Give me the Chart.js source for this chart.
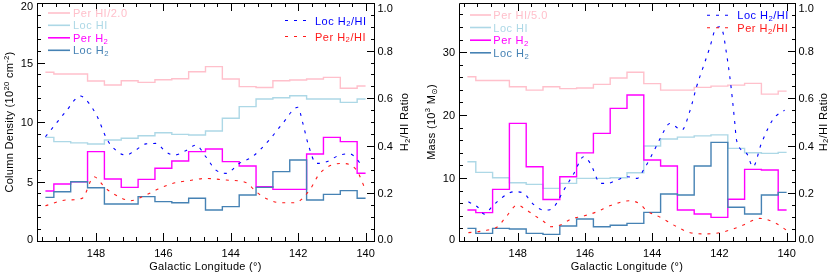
<!DOCTYPE html>
<html>
<head>
<meta charset="utf-8">
<script src="https://cdn.jsdelivr.net/npm/chart.js@4.4.1/dist/chart.umd.min.js"></script>
<style>
html, body { margin: 0; padding: 0; background: #fff; }
#wrap { position: relative; width: 830px; height: 273px; }
canvas { position: absolute; top: 0; }
#left { left: 0; }
#right { left: 415px; }
</style>
</head>
<body>
<div id="wrap">
<canvas id="left" width="415" height="273"></canvas>
<canvas id="right" width="415" height="273"></canvas>
</div>
<script>
// bin centres, galactic longitude (deg)
var lon = [149.5, 149.0, 148.5, 148.0, 147.5, 147.0, 146.5, 146.0, 145.5, 145.0,
           144.5, 144.0, 143.5, 143.0, 142.5, 142.0, 141.5, 141.0, 140.5, 140.0];

// left panel: column density (1e20 cm^-2)
var perHIcol = [14.18, 14.03, 14.03, 13.45, 13.11, 13.47, 13.33, 13.55, 13.64, 14.22,
                14.65, 13.61, 12.97, 12.9, 13.47, 13.53, 13.61, 13.75, 12.83, 13.03];   // Per HI / 2.0
var locHIcol = [8.71, 8.35, 8.25, 8.15, 8.49, 8.63, 8.85, 9.1, 8.96, 8.91,
                9.24, 10.31, 11.29, 11.93, 12.04, 12.21, 11.93, 11.93, 11.65, 11.93];
var perH2col = [4.2, 4.79, 4.98, 7.51, 5.21, 4.51, 5.18, 6.11, 6.72, 7.51,
                7.73, 6.67, 6.3, 4.56, 4.34, 4.34, 7.31, 8.71, 8.35, 5.69];
var locH2col = [3.67, 4.14, 4.98, 4.48, 3.11, 3.11, 3.73, 3.31, 3.22, 3.59,
                2.61, 2.89, 3.87, 4.51, 5.83, 6.81, 3.45, 3.92, 4.23, 3.59];

// left panel: H2/HI ratio curves
var locRatioLonL = [149.5, 149.3, 148.9, 148.46, 148.21, 147.96, 147.71, 147.56, 147.12, 146.82,
                    146.52, 146.22, 145.93, 145.68, 145.34, 145.04, 144.74, 144.44, 144.14, 143.75,
                    143.36, 142.86, 142.46, 142.01, 141.86, 141.71, 141.46, 141.16, 140.77, 140.47, 140.07];
var locRatioL = [0.438, 0.473, 0.543, 0.609, 0.579, 0.522, 0.438, 0.403, 0.361, 0.382,
                 0.408, 0.41, 0.375, 0.361, 0.379, 0.403, 0.354, 0.298, 0.284, 0.326,
                 0.354, 0.424, 0.494, 0.562, 0.494, 0.41, 0.326, 0.333, 0.361, 0.366, 0.312];
var perRatioLonL = [149.5, 148.9, 148.41, 148.06, 147.71, 147.22, 146.97, 146.62, 146.22, 145.73,
                    145.13, 144.74, 144.14, 143.54, 143.25, 142.85, 142.5, 142.1, 141.66, 141.36,
                    140.72, 140.27, 140.0];
var perRatioL = [0.148, 0.172, 0.179, 0.27, 0.221, 0.179, 0.169, 0.186, 0.214, 0.242,
                 0.256, 0.263, 0.256, 0.245, 0.207, 0.172, 0.161, 0.161, 0.214, 0.284,
                 0.326, 0.298, 0.214];

// right panel: mass (1e3 Msun)
var perHImass = [26.08, 25.5, 25.5, 24.5, 23.97, 24.5, 24.2, 24.3, 24.87, 25.9,
                 26.8, 25.0, 23.97, 23.97, 24.4, 24.6, 24.76, 25.03, 23.33, 23.8];  // Per HI / 5.0
var locHImass = [12.59, 10.9, 10.05, 9.26, 9.0, 8.36, 9.16, 9.95, 9.95, 10.05,
                 10.85, 15.08, 16.2, 16.5, 16.7, 16.85, 14.71, 14.02, 13.92, 14.07];
var perH2mass = [4.92, 4.5, 8.2, 18.68, 11.8, 6.6, 10.2, 14.0, 17.1, 21.06,
                 23.2, 12.86, 11.9, 4.92, 4.29, 3.76, 6.62, 11.38, 11.27, 4.92];
var locH2mass = [2.0, 1.21, 2.0, 1.9, 1.21, 1.06, 2.38, 3.49, 2.27, 2.5,
                 2.8, 4.55, 7.46, 7.3, 11.9, 15.66, 5.35, 4.29, 7.3, 7.73];

// right panel: H2/HI ratio curves
var locRatioLonR = [149.47, 149.19, 149.0, 148.75, 148.5, 148.11, 147.81, 147.61, 147.32, 147.12,
                    146.92, 146.63, 146.33, 146.04, 145.84, 145.54, 145.34, 145.05, 144.75, 144.45,
                    144.26, 143.86, 143.76, 143.47, 143.12, 142.87, 142.68, 142.48, 142.28, 142.13,
                    141.99, 141.89, 141.79, 141.69, 141.61, 141.54, 141.49, 141.19, 141.0, 140.75,
                    140.4, 140.06];
var locRatioR = [0.165, 0.142, 0.113, 0.147, 0.179, 0.207, 0.2, 0.165, 0.133, 0.13,
                 0.144, 0.214, 0.284, 0.354, 0.326, 0.242, 0.242, 0.256, 0.27, 0.263,
                 0.298, 0.403, 0.432, 0.494, 0.466, 0.55, 0.648, 0.732, 0.816, 0.887,
                 0.9, 0.874, 0.789, 0.69, 0.592, 0.494, 0.424, 0.368, 0.312, 0.41,
                 0.512, 0.55];
var perRatioLonR = [149.47, 149.19, 148.9, 148.6, 148.36, 148.01, 147.81, 147.52, 147.22, 147.02,
                    146.73, 146.43, 146.04, 145.64, 145.24, 144.65, 144.36, 144.16, 143.76, 143.27,
                    142.87, 142.4, 141.99, 141.69, 141.29, 140.8, 140.31, 140.01];
var perRatioR = [0.035, 0.039, 0.046, 0.06, 0.1, 0.151, 0.137, 0.109, 0.081, 0.06,
                 0.067, 0.091, 0.105, 0.123, 0.149, 0.169, 0.155, 0.127, 0.1, 0.06,
                 0.035, 0.03, 0.035, 0.046, 0.067, 0.095, 0.074, 0.046];

// tick labels
var lonTicks = [148, 146, 144, 142, 140];
var colTicks = [0, 5, 10, 15, 20];
var massTicks = [0, 10, 20, 30];
var ratioTicks = [0, 0.2, 0.4, 0.6, 0.8, 1.0];

var FONT = "'Liberation Sans', 'DejaVu Sans', Arial, sans-serif";
var C = {
    perHI: "#ffc0cb", locHI: "#add8e6", perH2: "#ff00ff", locH2: "#4682b4",
    locRatio: "#0000ff", perRatio: "#ff1a1a"
};
var DASH = [3, 6];

function pairs(xs, ys) {
    return xs.map(function (x, i) { return { x: x, y: ys[i] }; });
}

function stepSet(ys, color) {
    return { data: pairs(lon, ys), borderColor: color, borderWidth: 1.4, stepped: "middle",
             pointRadius: 0, yAxisID: "y" };
}

function curveSet(xs, ys, color) {
    return { data: pairs(xs, ys), borderColor: color, borderWidth: 1.1, borderDash: DASH,
             tension: 0.4, cubicInterpolationMode: "monotone", pointRadius: 0, yAxisID: "y2" };
}

// text with sub/superscripts: parts = [[text, 0|1|-1], ...]
function drawRich(ctx, parts, x, y, align, size, spacing) {
    ctx.letterSpacing = (spacing || 0) + "px";
    var w = 0;
    parts.forEach(function (p) {
        ctx.font = (p[1] ? size * 0.7 : size) + "px " + FONT;
        w += ctx.measureText(p[0]).width;
    });
    var cx = align === "center" ? x - w / 2 : x;
    ctx.textAlign = "left";
    ctx.textBaseline = "alphabetic";
    parts.forEach(function (p) {
        ctx.font = (p[1] ? size * 0.7 : size) + "px " + FONT;
        var dy = p[1] === 1 ? -size * 0.42 : (p[1] === -1 ? size * 0.18 : 0);
        ctx.fillText(p[0], cx, y + dy);
        cx += ctx.measureText(p[0]).width;
    });
    ctx.letterSpacing = "0px";
}

// IDL-like box, inward ticks, labels, titles and legends
function framePlugin(p) {
    return {
        id: "frame",
        afterDraw: function (chart) {
            var ctx = chart.ctx, a = chart.chartArea;
            var sx = chart.scales.x, sy = chart.scales.y, sr = chart.scales.y2;
            var k, v, len, px;
            ctx.save();
            ctx.strokeStyle = "#000";
            ctx.lineWidth = 1;
            ctx.beginPath();
            ctx.rect(a.left + 0.5, a.top + 0.5, a.right - a.left, a.bottom - a.top);
            for (k = 0; k <= 24; k++) {
                v = 140 + 0.4 * k;
                len = k % 5 === 0 ? 8 : 4;
                px = Math.round(sx.getPixelForValue(v)) + 0.5;
                ctx.moveTo(px, a.bottom); ctx.lineTo(px, a.bottom - len);
                ctx.moveTo(px, a.top); ctx.lineTo(px, a.top + len);
            }
            for (k = 0; k * p.yMinor <= p.yMax; k++) {
                v = k * p.yMinor;
                len = (v % p.yMajor === 0) ? 8 : 4;
                px = Math.round(sy.getPixelForValue(v)) + 0.5;
                ctx.moveTo(a.left, px); ctx.lineTo(a.left + len, px);
            }
            for (k = 0; k <= 20; k++) {
                len = k % 4 === 0 ? 8 : 4;
                px = Math.round(sr.getPixelForValue(k * 0.05)) + 0.5;
                ctx.moveTo(a.right + 1, px); ctx.lineTo(a.right + 1 - len, px);
            }
            ctx.stroke();

            // tick labels
            ctx.fillStyle = "#000";
            ctx.font = "11px " + FONT;
            ctx.textBaseline = "alphabetic";
            ctx.textAlign = "center";
            lonTicks.forEach(function (t) {
                ctx.fillText(String(t), sx.getPixelForValue(t), a.bottom + 15.7);
            });
            ctx.textAlign = "right";
            p.yTicks.forEach(function (t) {
                var by = Math.min(Math.max(sy.getPixelForValue(t) + 4, a.top + 7), a.bottom + 1.5);
                ctx.fillText(String(t), a.left - 4, by);
            });
            ctx.textAlign = "left";
            ratioTicks.forEach(function (t) {
                var by = Math.min(Math.max(sr.getPixelForValue(t) + 4, a.top + 8.5), a.bottom + 1.8);
                ctx.fillText(t.toFixed(1), a.right + 3.5, by);
            });

            // axis titles
            var midY = (a.top + a.bottom) / 2;
            drawRich(ctx, [["Galactic Longitude (\u00b0)", 0]], (a.left + a.right) / 2, a.bottom + 29, "center", 11, 0.3);
            ctx.save();
            ctx.translate(p.yTitleX, midY);
            ctx.rotate(-Math.PI / 2);
            drawRich(ctx, p.yTitle, 0, 0, "center", 11, 0.3);
            ctx.restore();
            ctx.save();
            ctx.translate(p.y2TitleX, midY);
            ctx.rotate(-Math.PI / 2);
            drawRich(ctx, [["H", 0], ["2", -1], ["/HI Ratio", 0]], 0, 0, "center", 11, 0.3);
            ctx.restore();

            // legends
            p.legend.forEach(function (it) {
                ctx.strokeStyle = it.color;
                ctx.lineWidth = it.dash ? 1.1 : 1.6;
                ctx.setLineDash(it.dash ? DASH : []);
                ctx.beginPath();
                ctx.moveTo(it.x0, it.y);
                ctx.lineTo(it.x1, it.y);
                ctx.stroke();
                ctx.setLineDash([]);
                ctx.fillStyle = it.color;
                drawRich(ctx, it.label, it.tx, it.y + 4, "left", 11, 0.5);
            });
            ctx.restore();
        }
    };
}

function makeChart(id, sets, p) {
    return new Chart(document.getElementById(id), {
        type: "line",
        data: { datasets: sets },
        options: {
            responsive: false,
            animation: false,
            events: [],
            layout: { padding: { top: 3, left: 0, right: 0, bottom: 0 } },
            plugins: { legend: { display: false }, tooltip: { enabled: false } },
            scales: {
                x: {
                    type: "linear", reverse: true, min: 139.75, max: 149.75,
                    ticks: { display: false }, grid: { display: false, drawTicks: false },
                    border: { display: false },
                    afterFit: function (s) { s.height = 32; }
                },
                y: {
                    type: "linear", position: "left", min: 0, max: p.yMax,
                    ticks: { display: false }, grid: { display: false, drawTicks: false },
                    border: { display: false },
                    afterFit: function (s) { s.width = p.leftW; }
                },
                y2: {
                    type: "linear", position: "right", min: 0, max: 1,
                    ticks: { display: false }, grid: { display: false, drawTicks: false },
                    border: { display: false },
                    afterFit: function (s) { s.width = p.rightW; }
                }
            }
        },
        plugins: [framePlugin(p)]
    });
}

var H2 = [["2", -1]];

makeChart("left", [
    curveSet(locRatioLonL, locRatioL, C.locRatio),
    curveSet(perRatioLonL, perRatioL, C.perRatio),
    stepSet(locH2col, C.locH2),
    stepSet(perH2col, C.perH2),
    stepSet(locHIcol, C.locHI),
    stepSet(perHIcol, C.perHI)
], {
    leftW: 37, rightW: 41, yMax: 20, yMinor: 1, yMajor: 5, yTicks: colTicks,
    yTitleX: 13.3, y2TitleX: 408,
    yTitle: [["Column Density (10", 0], ["20", 1], [" cm", 0], ["-2", 1], [")", 0]],
    legend: [
        { x0: 48, x1: 70, tx: 73, y: 13, color: C.perHI, label: [["Per HI/2.0", 0]] },
        { x0: 48, x1: 70, tx: 73, y: 25.3, color: C.locHI, label: [["Loc HI", 0]] },
        { x0: 48, x1: 70, tx: 73, y: 37.8, color: C.perH2, label: [["Per H", 0]].concat(H2) },
        { x0: 48, x1: 70, tx: 73, y: 50.3, color: C.locH2, label: [["Loc H", 0]].concat(H2) },
        { x0: 285, x1: 307, tx: 315, y: 20.5, color: C.locRatio, dash: true, label: [["Loc H", 0], ["2", -1], ["/HI", 0]] },
        { x0: 285, x1: 307, tx: 315, y: 36.5, color: C.perRatio, dash: true, label: [["Per H", 0], ["2", -1], ["/HI", 0]] }
    ]
});

makeChart("right", [
    curveSet(locRatioLonR, locRatioR, C.locRatio),
    curveSet(perRatioLonR, perRatioR, C.perRatio),
    stepSet(locH2mass, C.locH2),
    stepSet(perH2mass, C.perH2),
    stepSet(locHImass, C.locHI),
    stepSet(perHImass, C.perHI)
], {
    leftW: 44, rightW: 35, yMax: 37.8, yMinor: 2, yMajor: 10, yTicks: massTicks,
    yTitleX: 20, y2TitleX: 411.5,
    yTitle: [["Mass (10", 0], ["3", 1], [" M", 0], ["\u2299", -1], [")", 0]],
    legend: [
        { x0: 55, x1: 76, tx: 78.3, y: 15, color: C.perHI, label: [["Per HI/5.0", 0]] },
        { x0: 55, x1: 76, tx: 78.3, y: 27.5, color: C.locHI, label: [["Loc HI", 0]] },
        { x0: 55, x1: 76, tx: 78.3, y: 40.2, color: C.perH2, label: [["Per H", 0]].concat(H2) },
        { x0: 55, x1: 76, tx: 78.3, y: 52.8, color: C.locH2, label: [["Loc H", 0]].concat(H2) },
        { x0: 292, x1: 315, tx: 322.3, y: 15.3, color: C.locRatio, dash: true, label: [["Loc H", 0], ["2", -1], ["/HI", 0]] },
        { x0: 292, x1: 315, tx: 322.3, y: 27.8, color: C.perRatio, dash: true, label: [["Per H", 0], ["2", -1], ["/HI", 0]] }
    ]
});
</script>
</body>
</html>
